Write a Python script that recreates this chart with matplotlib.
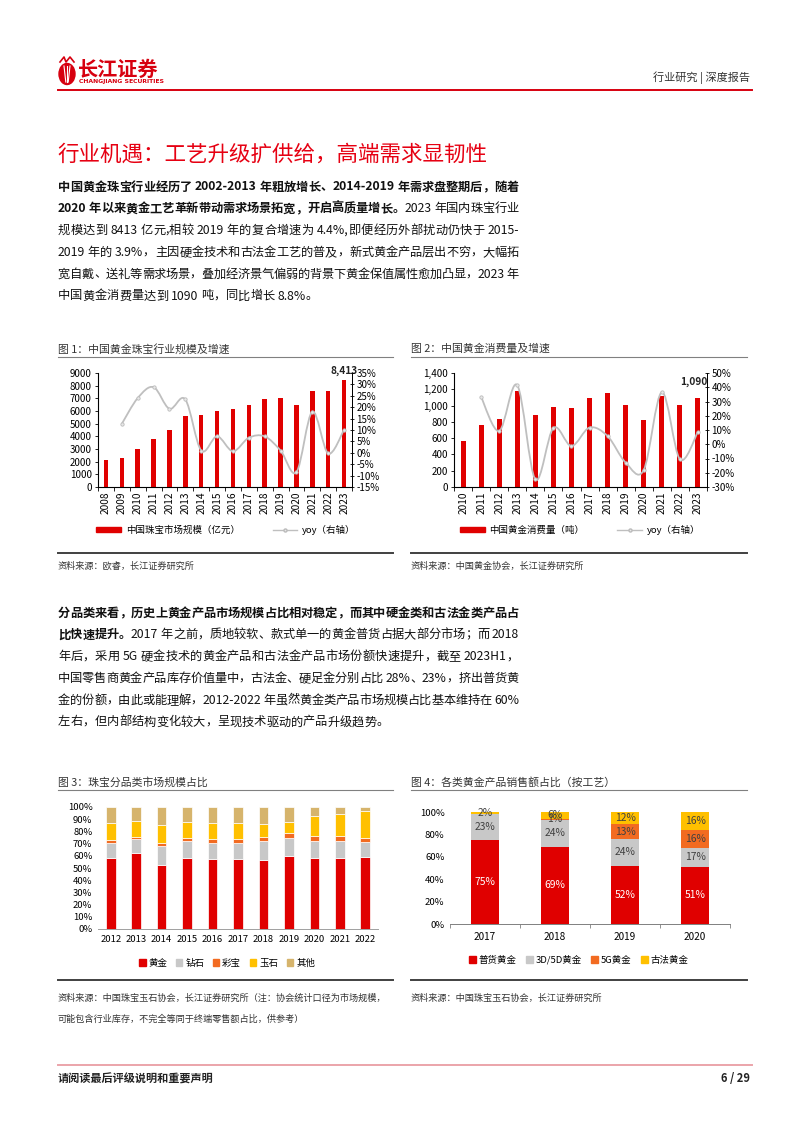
import numpy as np
import matplotlib
matplotlib.use("Agg")
import matplotlib.pyplot as plt
from matplotlib.path import Path
from matplotlib.patches import PathPatch, Patch, Ellipse
from matplotlib.lines import Line2D
from matplotlib.font_manager import FontProperties

plt.rcParams['font.family'] = ['Noto Sans CJK SC', 'DejaVu Sans']
plt.rcParams['axes.unicode_minus'] = False

W, H = 802, 1133

# -------------------------------------------------------------------------
# data
# -------------------------------------------------------------------------
years_scale = [str(y) for y in range(2008, 2024)]
jewelry_scale = [2100, 2300, 2970, 3760, 4470, 5580, 5680, 6030, 6130,
                 6470, 6920, 7050, 6450, 7600, 7600, 8413]
jewelry_yoy = [np.nan, 12.7, 24.0, 28.8, 19.3, 23.4, 1.0, 7.2, 0.7,
               6.6, 7.2, 1.0, -8.5, 18.0, -0.3, 10.1]

years_gold = [str(y) for y in range(2010, 2024)]
gold_consumption = [571, 761, 832, 1176, 886, 986, 975, 1089, 1151,
                    1003, 821, 1121, 1001, 1090]
gold_yoy = [np.nan, 33.2, 9.3, 41.4, -24.7, 11.4, -1.2, 11.7, 5.7,
            -12.9, -18.1, 36.5, -10.6, 8.8]

years_mix = [str(y) for y in range(2012, 2023)]
share_gold = [58.4, 62.2, 52.2, 58.4, 57.0, 57.0, 56.8, 59.8, 58.2, 57.9, 59.2]
share_diamond = [11.7, 11.2, 15.5, 13.6, 13.9, 13.9, 15.2, 14.4, 13.8, 14.1, 12.0]
share_colored = [3.0, 1.9, 3.0, 2.7, 2.5, 3.0, 3.5, 4.1, 4.6, 4.1, 3.8]
share_jade = [14.1, 13.3, 14.9, 13.3, 13.8, 13.3, 10.9, 9.7, 15.8, 18.5, 21.7]
share_other = [12.8, 11.4, 14.4, 12.0, 12.8, 12.8, 13.6, 12.0, 7.6, 5.4, 3.3]
mix_labels = ['黄金', '钻石', '彩宝', '玉石', '其他']

craft_years = ['2017', '2018', '2019', '2020']
plain_gold = [75, 69, 52, 51]
gold_3d5d = [23, 24, 24, 17]
gold_5g = [0, 1, 13, 16]
ancient_gold = [2, 6, 12, 16]
craft_labels = ['普货黄金', '3D/5D黄金', '5G黄金', '古法黄金']

RED = '#E00000'
GRAY = '#C8C8C8'
ORANGE = '#F26B21'
YELLOW = '#FFC000'
TAN = '#D6B46C'
LINE_GRAY = '#BFBFBF'

para1 = [
    [("中国黄金珠宝行业经历了 2002-2013 年粗放增长、2014-2019 年需求盘整期后，随着", True)],
    [("2020 年以来黄金工艺革新带动需求场景拓宽，开启高质量增长。", True),
     ("2023 年国内珠宝行业", False)],
    [("规模达到 8413 亿元,相较 2019 年的复合增速为 4.4%,即便经历外部扰动仍快于 2015-", False)],
    [("2019 年的 3.9%，主因硬金技术和古法金工艺的普及，新式黄金产品层出不穷，大幅拓", False)],
    [("宽自戴、送礼等需求场景，叠加经济景气偏弱的背景下黄金保值属性愈加凸显，2023 年", False)],
    [("中国黄金消费量达到 1090 吨，同比增长 8.8%。", False)],
]
para2 = [
    [("分品类来看，历史上黄金产品市场规模占比相对稳定，而其中硬金类和古法金类产品占", True)],
    [("比快速提升。", True),
     ("2017 年之前，质地较软、款式单一的黄金普货占据大部分市场；而 2018", False)],
    [("年后，采用 5G 硬金技术的黄金产品和古法金产品市场份额快速提升，截至 2023H1，", False)],
    [("中国零售商黄金产品库存价值量中，古法金、硬足金分别占比 28%、23%，挤出普货黄", False)],
    [("金的份额，由此或能理解，2012-2022 年虽然黄金类产品市场规模占比基本维持在 60%", False)],
    [("左右，但内部结构变化较大，呈现技术驱动的产品升级趋势。", False)],
]


def smooth_path(xs, ys):
    """Excel-like smoothed line through the points (Bezier segments)."""
    pts = [np.array([x, y]) for x, y in zip(xs, ys) if not np.isnan(y)]
    verts = [pts[0]]
    codes = [Path.MOVETO]
    for i in range(len(pts) - 1):
        p0 = pts[i - 1] if i > 0 else pts[i]
        p1, p2 = pts[i], pts[i + 1]
        p3 = pts[i + 2] if i + 2 < len(pts) else pts[i + 1]
        verts += [p1 + (p2 - p0) / 6, p2 - (p3 - p1) / 6, p2]
        codes += [Path.CURVE4] * 3
    return Path(verts, codes)


def axes_px(fig, left, top, right, bottom):
    return fig.add_axes([left / W, 1 - bottom / H, (right - left) / W, (bottom - top) / H])


def tokenize(parts):
    tokens = []
    for s, bold in parts:
        i = 0
        while i < len(s):
            c = s[i]
            if ord(c) < 128 and c != ' ':
                j = i
                while j < len(s) and ord(s[j]) < 128 and s[j] != ' ':
                    j += 1
                tokens.append((s[i:j], bold))
                i = j
            else:
                tokens.append((c, bold))
                i += 1
    return tokens


def text_line(ov, renderer, x0, x1, y, parts, size, justify):
    """Draw one line of body text, spreading it to x1 like a justified paragraph."""
    tokens = tokenize(parts)
    widths = []
    for tok, bold in tokens:
        prop = FontProperties(family=['Noto Sans CJK SC', 'DejaVu Sans'], size=size,
                              weight='bold' if bold else 'normal')
        if tok == ' ':
            w = renderer.get_text_width_height_descent('a a', prop, ismath=False)[0] - \
                renderer.get_text_width_height_descent('aa', prop, ismath=False)[0]
        else:
            w = renderer.get_text_width_height_descent(tok, prop, ismath=False)[0]
        widths.append(w)
    gap = 0.0
    if justify and len(tokens) > 1:
        gap = max(-0.6, (x1 - x0 - sum(widths)) / (len(tokens) - 1))
    x = x0
    for (tok, bold), w in zip(tokens, widths):
        if tok != ' ':
            ov.text(x, y, tok, fontsize=size, color='#111111', va='center', ha='left',
                    fontweight='bold' if bold else 'normal')
        x += w + gap


def bar_line_chart(fig, box, years, bars, yoy, left_lim, left_step, right_lim,
                   right_step, fmt_left, top_label, label_offset):
    ax = axes_px(fig, *box)
    x = np.arange(len(years))
    ax.bar(x, bars, width=0.28, color=RED, zorder=2)
    ax.set_xlim(-0.5, len(years) - 0.5)
    ax.set_ylim(*left_lim)
    ax.set_yticks(np.arange(left_lim[0], left_lim[1] + 1, left_step))
    ax.set_yticklabels([fmt_left(v) for v in ax.get_yticks()])
    ax.set_xticks(x)
    ax.set_xticklabels(years, rotation=90)
    ax.set_xticks(np.arange(-0.5, len(years)), minor=True)
    ax.tick_params(axis='x', which='major', length=0, labelsize=7.3, pad=3)
    ax.tick_params(axis='x', which='minor', length=3, width=0.6)
    ax.tick_params(axis='y', length=2.5, width=0.6, labelsize=7, pad=2)
    ax.spines['top'].set_visible(False)
    for side in ['left', 'bottom', 'right']:
        ax.spines[side].set_linewidth(0.7)
    ax.annotate(top_label, xy=(x[-1], bars[-1]), xytext=label_offset,
                textcoords='offset points', ha='center', va='bottom',
                fontsize=7.3, fontweight='bold', color='#222222')

    axr = ax.twinx()
    axr.set_ylim(*right_lim)
    axr.set_yticks(np.arange(right_lim[0], right_lim[1] + 1, right_step))
    axr.set_yticklabels([f"{int(v)}%" for v in axr.get_yticks()])
    axr.tick_params(axis='y', length=2.5, width=0.6, labelsize=7, pad=2,
                    direction='inout')
    axr.spines['top'].set_visible(False)
    axr.spines['right'].set_linewidth(0.7)
    axr.add_patch(PathPatch(smooth_path(x, yoy), fill=False,
                            edgecolor=LINE_GRAY, lw=1.3, zorder=3))
    axr.plot(x, yoy, ls='none', marker='o', ms=2.4, mfc='#E8E8E8',
             mec='#BBBBBB', mew=0.6, zorder=4)
    return ax


def main():
    fig = plt.figure(figsize=(W / 100, H / 100), dpi=100)
    renderer = fig.canvas.get_renderer()
    ov = fig.add_axes([0, 0, 1, 1])
    ov.set_xlim(0, W)
    ov.set_ylim(H, 0)
    ov.axis('off')

    # ---- header ---------------------------------------------------------
    ov.add_patch(Ellipse((67, 74), 16, 21, color='#D7000F'))
    for dx in (-3, 0, 3):
        ov.plot([67 + dx, 67 + dx * 0.4], [66, 82], color='white', lw=0.8)
    ov.plot([60, 64, 66, 70, 74], [62, 57, 62, 57, 62], color='#D7000F', lw=1.2)
    ov.text(78, 69, '长江证券', fontsize=14.5, fontweight='bold', color='#D7000F',
            va='center', ha='left')
    ov.text(79, 81, 'CHANGJIANG SECURITIES', fontsize=4.4, fontweight='bold',
            color='#D7000F', va='center', ha='left', family='DejaVu Sans')
    ov.text(750, 78, '行业研究 | 深度报告', fontsize=8, color='#333333',
            ha='right', va='center')
    ov.plot([58, 752], [90, 90], color='#D7000F', lw=1.4)

    # ---- section title and text ----------------------------------------
    ov.text(57, 155, '行业机遇：工艺升级扩供给，高端需求显韧性', fontsize=15.5,
            color='#E60012', va='center', ha='left')
    for block, y0 in [(para1, 187), (para2, 613)]:
        for i, parts in enumerate(block):
            text_line(ov, renderer, 58, 519, y0 + i * 21.8, parts, 8.8,
                      justify=i < len(block) - 1)

    # ---- chart frames ---------------------------------------------------
    frames = [
        (58, 393, 349, 357, 553, '图 1：中国黄金珠宝行业规模及增速'),
        (411, 747, 349, 357, 553, '图 2：中国黄金消费量及增速'),
        (58, 393, 782, 790, 980, '图 3：珠宝分品类市场规模占比'),
        (411, 747, 782, 790, 980, '图 4：各类黄金产品销售额占比（按工艺）'),
    ]
    for x0, x1, ty, uy, by, title in frames:
        ov.text(x0, ty, title, fontsize=7.8, color='#333333', va='center', ha='left')
        ov.plot([x0, x1], [uy, uy], color='#808080', lw=0.8)
        ov.plot([x0, x1], [by, by], color='#404040', lw=1.4)

    src_kw = dict(fontsize=6.6, color='#333333', va='center', ha='left')
    ov.text(58, 566, '资料来源：欧睿，长江证券研究所', **src_kw)
    ov.text(411, 566, '资料来源：中国黄金协会，长江证券研究所', **src_kw)
    ov.text(58, 998, '资料来源：中国珠宝玉石协会，长江证券研究所（注：协会统计口径为市场规模，', **src_kw)
    ov.text(58, 1019, '可能包含行业库存，不完全等同于终端零售额占比，供参考）', **src_kw)
    ov.text(411, 998, '资料来源：中国珠宝玉石协会，长江证券研究所', **src_kw)

    # ---- footer ---------------------------------------------------------
    ov.plot([58, 752], [1065, 1065], color='#EBA4AA', lw=1.4)
    ov.text(58, 1079, '请阅读最后评级说明和重要声明', fontsize=8, fontweight='bold',
            color='#222222', va='center', ha='left')
    ov.text(750, 1079, '6 / 29', fontsize=8, fontweight='bold',
            color='#222222', va='center', ha='right')

    # ---- chart 1 & 2 ----------------------------------------------------
    bar_line_chart(fig, (98, 373, 352, 487), years_scale, jewelry_scale, jewelry_yoy,
                   (0, 9000), 1000, (-15, 35), 5, lambda v: f"{int(v)}",
                   '8,413', (0, 3))
    bar_line_chart(fig, (454, 373, 707, 487), years_gold, gold_consumption, gold_yoy,
                   (0, 1400), 200, (-30, 50), 10, lambda v: f"{int(v):,}",
                   '1,090', (-3, 8))

    leg_kw = dict(loc='center', frameon=False, fontsize=6.8, ncol=2,
                  handlelength=2.6, handleheight=0.45, columnspacing=3.5,
                  handletextpad=0.5)
    yoy_handle = Line2D([], [], color=LINE_GRAY, lw=1.0, marker='o', ms=2.2,
                        mfc='#E8E8E8', mec='#BBBBBB')
    fig.legend([Patch(color=RED), yoy_handle], ['中国珠宝市场规模（亿元）', 'yoy（右轴）'],
               bbox_to_anchor=(226 / W, 1 - 530 / H), **leg_kw)
    fig.legend([Patch(color=RED), yoy_handle], ['中国黄金消费量（吨）', 'yoy（右轴）'],
               bbox_to_anchor=(580 / W, 1 - 530 / H), **leg_kw)

    # ---- chart 3 --------------------------------------------------------
    ax3 = axes_px(fig, 98, 807, 378, 929)
    x3 = np.arange(len(years_mix))
    bottom = np.zeros(len(years_mix))
    for vals, color in zip([share_gold, share_diamond, share_colored, share_jade, share_other],
                           [RED, GRAY, ORANGE, YELLOW, TAN]):
        ax3.bar(x3, vals, bottom=bottom, width=0.38, color=color,
                edgecolor='white', linewidth=0.5)
        bottom += np.array(vals)
    ax3.set_xlim(-0.5, len(years_mix) - 0.5)
    ax3.set_ylim(0, 100)
    ax3.set_yticks(np.arange(0, 101, 10))
    ax3.set_yticklabels([f"{v}%" for v in range(0, 101, 10)])
    ax3.set_xticks(x3)
    ax3.set_xticklabels(years_mix)
    ax3.tick_params(axis='both', length=0, labelsize=6.8, pad=4)
    for side in ['top', 'right', 'left']:
        ax3.spines[side].set_visible(False)
    ax3.spines['bottom'].set_color('#A0A0A0')
    ax3.spines['bottom'].set_linewidth(0.7)
    fig.legend([Patch(color=c) for c in [RED, GRAY, ORANGE, YELLOW, TAN]], mix_labels,
               loc='center', bbox_to_anchor=(227 / W, 1 - 963 / H), ncol=5,
               frameon=False, fontsize=6.8, handlelength=0.7, handleheight=0.7,
               handletextpad=0.3, columnspacing=0.9)

    # ---- chart 4 --------------------------------------------------------
    ax4 = axes_px(fig, 450, 812, 730, 924)
    x4 = np.arange(len(craft_years))
    bottom = np.zeros(len(craft_years))
    series4 = [plain_gold, gold_3d5d, gold_5g, ancient_gold]
    colors4 = [RED, GRAY, ORANGE, YELLOW]
    for vals, color in zip(series4, colors4):
        ax4.bar(x4, vals, bottom=bottom, width=0.4, color=color)
        for xi, b, v in zip(x4, bottom, vals):
            if v > 0:
                ax4.text(xi, b + v / 2, f"{v}%", ha='center', va='center',
                         fontsize=7.4, color='white' if color == RED else '#404040')
        bottom += np.array(vals)
    ax4.set_xlim(-0.5, len(craft_years) - 0.5)
    ax4.set_ylim(0, 100)
    ax4.set_yticks(np.arange(0, 101, 20))
    ax4.set_yticklabels([f"{v}%" for v in range(0, 101, 20)])
    ax4.set_xticks(x4)
    ax4.set_xticklabels(craft_years)
    ax4.set_xticks(np.arange(-0.5, len(craft_years)), minor=True)
    ax4.tick_params(axis='x', which='major', length=0, labelsize=7.2, pad=6)
    ax4.tick_params(axis='x', which='minor', length=3, width=0.6, color='#808080')
    ax4.tick_params(axis='y', length=0, labelsize=6.9, pad=4)
    for side in ['top', 'right', 'left']:
        ax4.spines[side].set_visible(False)
    ax4.spines['bottom'].set_color('#808080')
    ax4.spines['bottom'].set_linewidth(0.7)
    fig.legend([Patch(color=c) for c in colors4], craft_labels,
               loc='center', bbox_to_anchor=(579 / W, 1 - 960 / H), ncol=4,
               frameon=False, fontsize=6.8, handlelength=0.7, handleheight=0.7,
               handletextpad=0.3, columnspacing=1.0)

    fig.savefig('out.png', dpi=100)
    plt.close(fig)


if __name__ == "__main__":
    main()
